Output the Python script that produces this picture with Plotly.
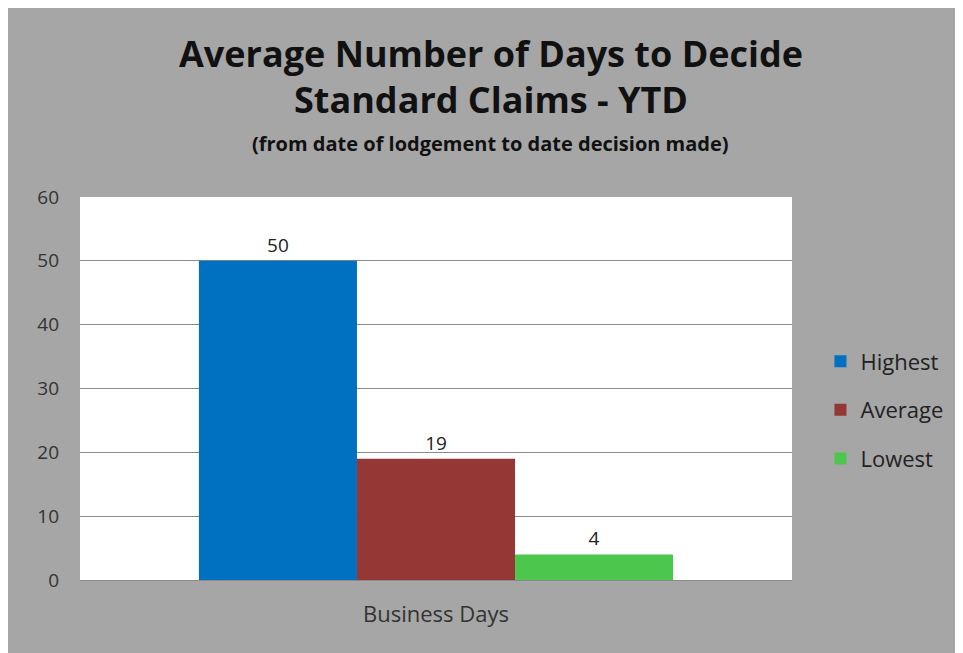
import plotly.graph_objects as go

categories = ["Business Days"]
series_names = ["Highest", "Average", "Lowest"]
series_values = [[50], [19], [4]]
series_colors = ["#0070c0", "#953735", "#4cc64c"]

title_lines = ["Average Number of Days to Decide", "Standard Claims - YTD"]
subtitle = "(from date of lodgement to date decision made)"

BG = "#a6a6a6"
FONT = "Open Sans"

fig = go.Figure()
for name, vals, col in zip(series_names, series_values, series_colors):
    fig.add_trace(go.Bar(
        x=categories, y=vals, name=name, legendgroup=name,
        marker=dict(color=col, line_width=0),
        text=[str(v) for v in vals], textposition="outside",
        textfont=dict(size=19, color="#222222", family=FONT),
        cliponaxis=False,
    ))

# title block as paper annotations (pixel offsets above the plot top)
annos = []
for txt, shift, size in [(title_lines[0], 144, 36), (title_lines[1], 98, 36), (subtitle, 54, 20)]:
    annos.append(dict(text=f"<b>{txt}</b>", xref="paper", yref="paper", x=0.577, y=1.0,
                      yshift=shift, xanchor="center", yanchor="middle", showarrow=False,
                      font=dict(size=size, color="#111111", family=FONT)))

fig.update_layout(
    width=955, height=645,
    paper_bgcolor=BG, plot_bgcolor="white",
    font=dict(family=FONT, color="#222222"),
    margin=dict(l=72, r=171, t=189, b=73),
    barmode="group", bargap=0.334, bargroupgap=0,
    annotations=annos,
    yaxis=dict(range=[0, 60], dtick=10, showgrid=True, gridcolor="#8a8a8a", gridwidth=1,
               tickfont=dict(size=19, color="#333333"), ticks="", zeroline=False,
               showline=False, ticklabelstandoff=20),
    xaxis=dict(tickfont=dict(size=22, color="#333333"), showline=True, linecolor="#8a8a8a",
               ticks="", ticklabelstandoff=15),
    legend=dict(x=1.04, y=0.444, xanchor="left", yanchor="middle", bgcolor="rgba(0,0,0,0)",
                font=dict(size=22, color="#222222"), tracegroupgap=17, traceorder="grouped",
                itemwidth=30),
    showlegend=True,
)

fig.write_html("out.html")
